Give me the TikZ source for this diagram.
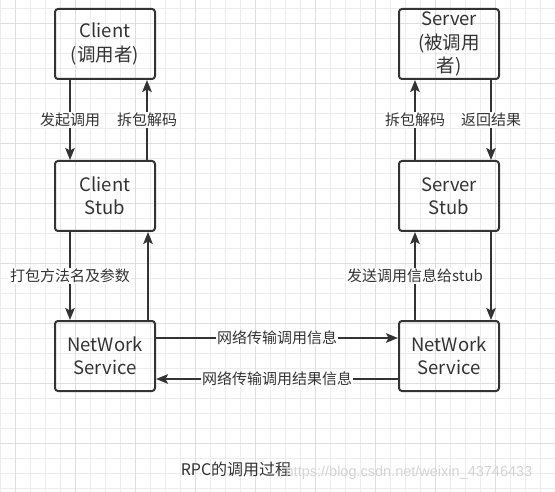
\documentclass[tikz,border=0pt]{standalone}
\usepackage{fontspec}
\setmainfont{Noto Sans CJK SC}
\newfontfamily\urlfont{Liberation Sans}
\usetikzlibrary{arrows.meta}
\definecolor{line_gray}{RGB}{51,51,51}
\definecolor{grid_minor}{RGB}{236,236,236}
\definecolor{grid_major}{RGB}{222,222,222}
\definecolor{mark_gray}{RGB}{212,212,212}

\begin{document}
\begin{tikzpicture}[x=1pt,y=-1pt,->,>={Stealth[length=12pt,width=9.5pt,inset=2.5pt]},line width=2pt]
    \tikzstyle{box}=[draw=line_gray, rounded corners=3pt, minimum width=100pt, minimum height=70pt, align=center, text=line_gray, font=\fontsize{18.5}{23.5}\selectfont, inner sep=0pt]
    \tikzstyle{lab}=[fill=white, text=line_gray, font=\fontsize{15}{17}\selectfont, inner sep=1pt]
    \tikzstyle{flow}=[draw=line_gray]

    \useasboundingbox (0,0) rectangle (555,492);
    \fill[white] (0,0) rectangle (555,492);
    % background grid
    \begin{scope}[-,line width=0.8pt]
      \foreach \x in {0.7,15.7,...,555} \draw[grid_minor] (\x,0) -- (\x,492);
      \foreach \y in {8.3,23.3,...,492} \draw[grid_minor] (0,\y) -- (555,\y);
      \foreach \x in {15.7,75.7,...,555} \draw[grid_major] (\x,0) -- (\x,492);
      \foreach \y in {23.3,83.3,...,492} \draw[grid_major] (0,\y) -- (555,\y);
    \end{scope}

    \node[box] (cl)  at (105,44)  {Client\\(调用者)};
    \node[box] (cs)  at (105,196) {Client\\Stub};
    \node[box] (cn)  at (105,356) {NetWork\\Service};
    \node[box] (sv)  at (449,44)  {Server\\(被调用\\者)};
    \node[box] (ss)  at (449,196) {Server\\Stub};
    \node[box] (sn)  at (449,356) {NetWork\\Service};

    \path
     ([xshift=16pt]cl.south west) edge[flow] node[lab] {发起调用} ([xshift=16pt]cs.north west)
     ([xshift=-9pt]cs.north east) edge[flow] node[lab] {拆包解码} ([xshift=-9pt]cl.south east)
     ([xshift=16pt]cs.south west) edge[flow] node[lab] {打包方法名及参数} ([xshift=16pt]cn.north west)
     ([xshift=-8pt]cn.north east) edge[flow] ([xshift=-8pt]cs.south east)
     ([yshift=-18pt]cn.north east) edge[flow] node[lab] {网络传输调用信息} ([yshift=-18pt]sn.north west)
     ([yshift=13pt]sn.south west) edge[flow] node[lab] {网络传输调用结果信息} ([yshift=13pt]cn.south east)
     ([xshift=17pt]sn.north west) edge[flow] node[lab] {发送调用信息给stub} ([xshift=17pt]ss.south west)
     ([xshift=-9pt]ss.south east) edge[flow] ([xshift=-9pt]sn.north east)
     ([xshift=17pt]ss.north west) edge[flow] node[lab] {拆包解码} ([xshift=17pt]sv.south west)
     ([xshift=-9pt]sv.south east) edge[flow] node[lab] {返回结果} ([xshift=-9pt]ss.north east)
     ;

    \node[text=line_gray, font=\fontsize{16}{18}\selectfont] (cap) at (236,469) {RPC的调用过程};
    \node[text=mark_gray, font=\urlfont\fontsize{14.5}{17}\selectfont] (wm) at (409,473) {https://blog.csdn.net/weixin\_43746433};
\end{tikzpicture}
\end{document}
